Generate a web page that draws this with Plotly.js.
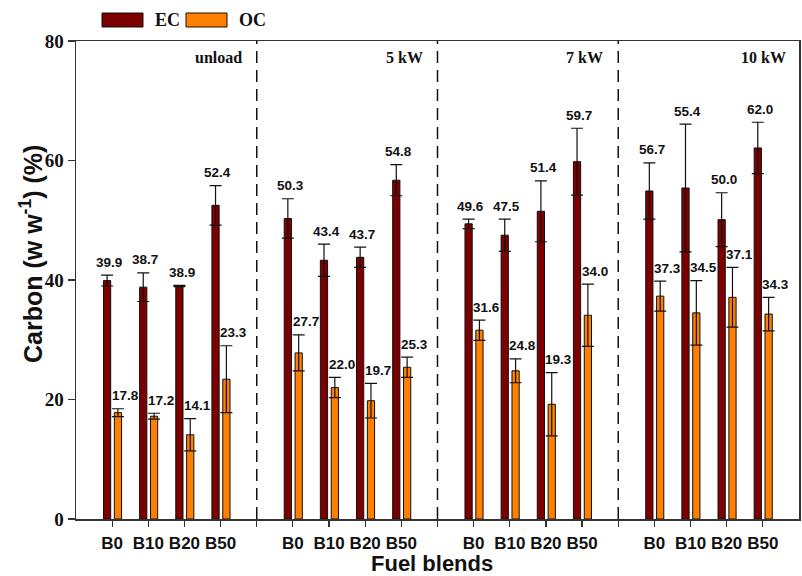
<!DOCTYPE html>
<html>
<head>
<meta charset="utf-8">
<script src="https://cdn.plot.ly/plotly-3.0.1.min.js"></script>
<style>html,body{margin:0;padding:0;background:#fff;}#chart{width:802px;height:576px;}</style>
</head>
<body>
<div id="chart"></div>
<script>
// ---------- data ----------
const categories = ['B0', 'B10', 'B20', 'B50'];
const loads = ['unload', '5 kW', '7 kW', '10 kW'];

// bar heights (unload, 5 kW, 7 kW, 10 kW)
const ecValues = [39.9, 38.8, 39.0, 52.5,  50.3, 43.3, 43.8, 56.7,  49.4, 47.5, 51.5, 59.8,  54.9, 55.4, 50.1, 62.1];
const ecErrors = [0.9, 2.4, 0.1, 3.3,  3.3, 2.7, 1.7, 2.6,  0.8, 2.7, 5.1, 5.6,  4.7, 10.7, 4.5, 4.3];
const ecLabels = ['39.9', '38.7', '38.9', '52.4', '50.3', '43.4', '43.7', '54.8', '49.6', '47.5', '51.4', '59.7', '56.7', '55.4', '50.0', '62.0'];

const ocValues = [17.8, 17.2, 14.1, 23.4,  27.8, 22.0, 19.8, 25.4,  31.6, 24.8, 19.2, 34.1,  37.3, 34.5, 37.1, 34.3];
const ocErrors = [0.65, 0.5, 2.7, 5.6,  3.0, 1.7, 2.9, 1.7,  1.7, 2.0, 5.3, 5.2,  2.5, 5.4, 5.0, 2.8];
const ocLabels = ['17.8', '17.2', '14.1', '23.3', '27.7', '22.0', '19.7', '25.3', '31.6', '24.8', '19.3', '34.0', '37.3', '34.5', '37.1', '34.3'];

const yTicks = [0, 20, 40, 60, 80];

// ---------- positions on a numeric x axis ----------
const groupSize = categories.length + 1;   // one slot for the separator
const xPos = [], tickVals = [], tickText = [];
loads.forEach((l, g) => {
  categories.forEach((c, i) => { xPos.push(g * groupSize + i); });
});
const nSlots = loads.length * groupSize - 1;
for (let s = 0; s < nSlots; s++) {
  tickVals.push(s);
  const r = s % groupSize;
  tickText.push(r < categories.length ? categories[r] : ' ');
}
const sepPos = loads.slice(0, -1).map((l, g) => g * groupSize + categories.length);

const EC_COLOR = '#7d0000';
const OC_COLOR = '#ff8000';

const sans = 'Liberation Sans, Arial, sans-serif';
const serif = 'Liberation Serif, Times New Roman, serif';

const traces = [
  {
    type: 'bar', name: 'EC', x: xPos, y: ecValues,
    width: 0.2, offset: -0.24,
    marker: {color: EC_COLOR, line: {color: '#111', width: 1}},
    error_y: {type: 'data', array: ecErrors, visible: true, color: '#111', thickness: 1.2, width: 6},
    showlegend: false, hoverinfo: 'skip'
  },
  {
    type: 'bar', name: 'OC', x: xPos, y: ocValues,
    width: 0.2, offset: 0.06,
    marker: {color: OC_COLOR, line: {color: '#111', width: 1}},
    error_y: {type: 'data', array: ocErrors, visible: true, color: '#111', thickness: 1.2, width: 6},
    showlegend: false, hoverinfo: 'skip'
  }
];

// ---------- layout geometry ----------
const W = 802, H = 576;
const M = {l: 76, r: 3, t: 41, b: 57};
const PW = W - M.l - M.r, PH = H - M.t - M.b;
const px = v => (v - M.l) / PW;        // pixel -> paper x
const py = v => (H - M.b - v) / PH;    // pixel -> paper y

const annotations = [];
// value labels
xPos.forEach((x, i) => {
  annotations.push({
    x: x - 0.08, y: ecValues[i] + ecErrors[i], xref: 'x', yref: 'y',
    text: ecLabels[i], showarrow: false, yanchor: 'middle', yshift: 13,
    font: {family: sans, size: 13.5, color: '#111', weight: 'bold'}
  });
  annotations.push({
    x: x + 0.36, y: ocValues[i] + ocErrors[i], xref: 'x', yref: 'y',
    text: ocLabels[i], showarrow: false, yanchor: 'middle', yshift: 13,
    font: {family: sans, size: 13.5, color: '#111', weight: 'bold'}
  });
});
// panel labels
loads.forEach((l, g) => {
  const last = g === loads.length - 1;
  annotations.push({
    x: last ? 1 : sepPos[g], xref: last ? 'paper' : 'x',
    y: 1, yref: 'paper', yshift: -16, yanchor: 'middle',
    xanchor: 'right', xshift: last ? -11 : -13,
    text: l, showarrow: false,
    font: {family: serif, size: 16, color: '#111', weight: 'bold'}
  });
});
// axis titles
annotations.push({
  x: px(31), y: py(254), xref: 'paper', yref: 'paper', textangle: -90,
  text: 'Carbon (w w<sup>-1</sup>) (%)', showarrow: false,
  xanchor: 'center', yanchor: 'middle',
  font: {family: sans, size: 25, color: '#111', weight: 'bold'}
});
annotations.push({
  x: px(432), y: py(563), xref: 'paper', yref: 'paper',
  text: 'Fuel blends', showarrow: false, xanchor: 'center', yanchor: 'middle',
  font: {family: sans, size: 22, color: '#111', weight: 'bold'}
});
// legend text
annotations.push({x: px(153), y: py(20), xref: 'paper', yref: 'paper', text: 'EC', showarrow: false,
  xanchor: 'left', yanchor: 'middle', font: {family: serif, size: 18, color: '#111', weight: 'bold'}});
annotations.push({x: px(237), y: py(20), xref: 'paper', yref: 'paper', text: 'OC', showarrow: false,
  xanchor: 'left', yanchor: 'middle', font: {family: serif, size: 18, color: '#111', weight: 'bold'}});

const shapes = [];
sepPos.forEach(s => {
  shapes.push({type: 'line', xref: 'x', yref: 'y', x0: s, x1: s, y0: 0, y1: 80,
    line: {color: '#111', width: 1.5, dash: '12px,7px'}});
});
// legend swatches
shapes.push({type: 'rect', xref: 'paper', yref: 'paper', x0: px(102), x1: px(143), y0: py(27), y1: py(13),
  fillcolor: EC_COLOR, line: {color: '#111', width: 1}});
shapes.push({type: 'rect', xref: 'paper', yref: 'paper', x0: px(186), x1: px(227), y0: py(27), y1: py(13),
  fillcolor: OC_COLOR, line: {color: '#111', width: 1}});

const layout = {
  width: W, height: H,
  margin: M,
  paper_bgcolor: '#fff', plot_bgcolor: '#fff',
  barmode: 'overlay',
  showlegend: false,
  xaxis: {
    range: [-1, nSlots], tickmode: 'array', tickvals: tickVals, ticktext: tickText,
    ticks: 'outside', ticklen: 6, tickwidth: 1.2, tickcolor: '#333',
    showline: true, mirror: true, linecolor: '#333', linewidth: 1.5,
    showgrid: false, zeroline: false, ticklabelstandoff: 2,
    tickfont: {family: sans, size: 17, color: '#111', weight: 'bold'}
  },
  yaxis: {
    range: [0, 80], tickmode: 'array', tickvals: yTicks,
    ticks: 'outside', ticklen: 7, tickwidth: 1.2, tickcolor: '#333',
    showline: true, mirror: true, linecolor: '#333', linewidth: 1.5,
    showgrid: false, zeroline: false,
    tickfont: {family: serif, size: 19, color: '#111', weight: 'bold'}
  },
  annotations: annotations,
  shapes: shapes
};

Plotly.newPlot('chart', traces, layout, {displayModeBar: false, staticPlot: true});
</script>
</body>
</html>
